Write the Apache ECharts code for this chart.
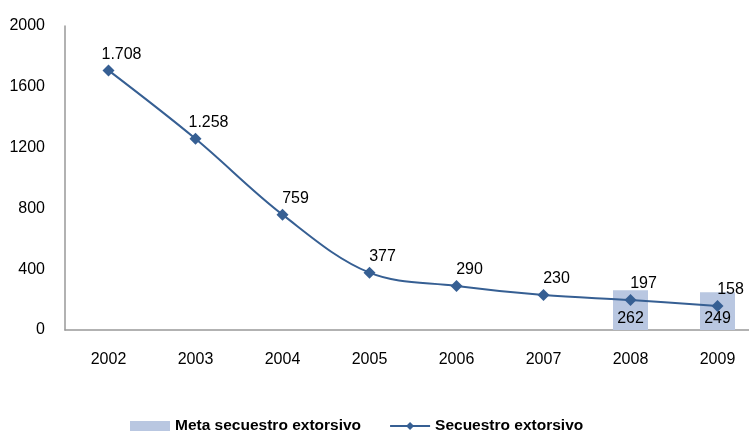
<!DOCTYPE html>
<html>
<head>
<meta charset="utf-8">
<script src="https://cdn.jsdelivr.net/npm/echarts@6/dist/echarts.min.js"></script>
<style>
  html, body { margin: 0; padding: 0; background: #fff; }
  #chart { width: 749px; height: 433px; }
</style>
</head>
<body>
<div id="chart"></div>
<script>
const years = ['2002', '2003', '2004', '2005', '2006', '2007', '2008', '2009'];
const secuestro = [1708, 1258, 759, 377, 290, 230, 197, 158];
const meta = [null, null, null, null, null, null, 262, 249];
const yTicks = [0, 400, 800, 1200, 1600, 2000];

// thousands with a dot, like the source
const fmt = (v) => String(v).replace(/\B(?=(\d{3})+(?!\d))/g, '.');

const chart = echarts.init(document.getElementById('chart'));

chart.setOption({
  animation: false,
  textStyle: { fontFamily: 'Liberation Sans, Arial, sans-serif' },
  // plot runs past the right edge, as in the source
  grid: { left: 65, width: 696, top: 26, height: 304, outerBoundsMode: 'none', containLabel: false },
  legend: {
    top: 413,
    left: 125,
    itemGap: 28,
    itemWidth: 40,
    itemHeight: 10,
    textStyle: { fontSize: 15.5, fontWeight: 'bold', color: '#000' },
    data: [
      { name: 'Meta secuestro extorsivo', icon: 'rect' },
      { name: 'Secuestro extorsivo' }
    ]
  },
  xAxis: {
    type: 'category',
    data: years,
    axisTick: { show: false },
    axisLine: { lineStyle: { color: '#999', width: 1.5 } },
    axisLabel: { color: '#000', fontSize: 16, margin: 22 }
  },
  yAxis: {
    type: 'value',
    min: yTicks[0],
    max: yTicks[yTicks.length - 1],
    interval: 400,
    splitLine: { show: false },
    axisTick: { show: false },
    axisLine: { show: true, lineStyle: { color: '#999', width: 1.5 } },
    axisLabel: { color: '#000', fontSize: 16, margin: 20, formatter: (v) => String(v) }
  },
  series: [
    {
      name: 'Meta secuestro extorsivo',
      type: 'bar',
      data: meta,
      barWidth: 35,
      itemStyle: { color: '#B9C7E1' },
      label: {
        show: true,
        position: 'insideBottom',
        distance: 3,
        color: '#000',
        fontSize: 16
      }
    },
    {
      name: 'Secuestro extorsivo',
      type: 'line',
      data: secuestro,
      smooth: 0.35,
      symbol: 'diamond',
      symbolSize: 12,
      lineStyle: { color: '#365F93', width: 2 },
      itemStyle: { color: '#365F93' },
      label: {
        show: true,
        position: 'top',
        offset: [13, 3],
        color: '#000',
        fontSize: 16,
        formatter: (p) => fmt(p.value)
      }
    }
  ]
});
</script>
</body>
</html>
